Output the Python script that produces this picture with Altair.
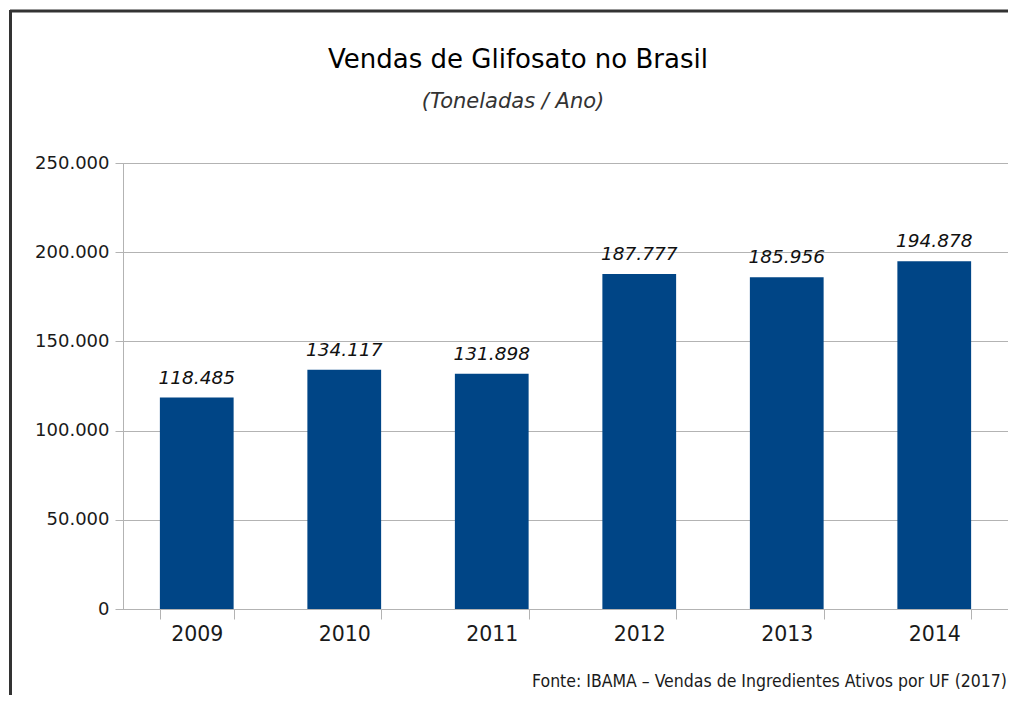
import altair as alt
import pandas as pd

years = ["2009", "2010", "2011", "2012", "2013", "2014"]
sales = [118485, 134117, 131898, 187777, 185956, 194878]
y_ticks = [0, 50000, 100000, 150000, 200000, 250000]

title_text = "Vendas de Glifosato no Brasil"
subtitle_text = "(Toneladas / Ano)"
source_text = "Fonte: IBAMA – Vendas de Ingredientes Ativos por UF (2017)"

df = pd.DataFrame({"ano": years, "vendas": sales})

GRID = "#b3b3b3"
FONT = "DejaVu Sans"

base = alt.Chart(df)

x_enc = alt.X(
    "ano:N",
    title=None,
    sort=years,
    scale=alt.Scale(paddingInner=0.5, paddingOuter=0.25),
    axis=alt.Axis(
        labelAngle=0,
        labelFont=FONT,
        labelFontSize=20.5,
        labelColor="#1a1a1a",
        labelPadding=5,
        tickBand="extent",
        tickSize=10,
        tickColor=GRID,
        domainColor=GRID,
        grid=False,
    ),
)
y_enc = alt.Y(
    "vendas:Q",
    title=None,
    scale=alt.Scale(domain=[0, 250000], nice=False),
    axis=alt.Axis(
        values=y_ticks,
        labelExpr="replace(format(datum.value, ','), ',', '.')",
        labelFont=FONT,
        labelFontSize=18,
        labelColor="#1a1a1a",
        labelPadding=6,
        tickSize=8,
        tickColor=GRID,
        domainColor=GRID,
        gridColor=GRID,
    ),
)

bars = base.mark_bar(color="#004586").encode(x=x_enc, y=y_enc)

labels = base.transform_calculate(
    lab="replace(format(datum.vendas, ','), ',', '.')"
).mark_text(
    font=FONT, fontSize=18.5, fontStyle="italic", color="#111111",
    baseline="alphabetic", dy=-14,
).encode(x=alt.X("ano:N", sort=years), y="vendas:Q", text="lab:N")

one = alt.Data(values=[{}])

title = alt.Chart(one).mark_text(
    text=title_text, font=FONT, fontSize=26, color="#000000",
    align="center", baseline="alphabetic",
).encode(x=alt.value(395), y=alt.value(-95))

subtitle = alt.Chart(one).mark_text(
    text=subtitle_text, font=FONT, fontSize=21, fontStyle="italic",
    color="#333333", align="center", baseline="alphabetic",
).encode(x=alt.value(390), y=alt.value(-55))

source = alt.Chart(one).mark_text(
    text=source_text, font="Liberation Sans Narrow, DejaVu Sans Condensed, sans-serif",
    fontSize=17.5, color="#1a1a1a", align="right", baseline="alphabetic",
).encode(x=alt.value(884), y=alt.value(524))

frame_top = alt.Chart(one).mark_rule(color="#333333", strokeWidth=3).encode(
    x=alt.value(-113), x2=alt.value(900), y=alt.value(-152)
)
frame_left = alt.Chart(one).mark_rule(color="#333333", strokeWidth=3).encode(
    x=alt.value(-112.5), y=alt.value(-153), y2=alt.value(560)
)

chart = alt.layer(bars, labels, title, subtitle, source, frame_top, frame_left).properties(
    width=885,
    height=446,
    padding={"left": 115, "top": 155, "right": 0, "bottom": 86},
    autosize=alt.AutoSizeParams(type="none"),
    background="#ffffff",
).configure_view(stroke=GRID, strokeWidth=1)

chart.save("out.html", embed_options={"renderer": "svg", "actions": False})
